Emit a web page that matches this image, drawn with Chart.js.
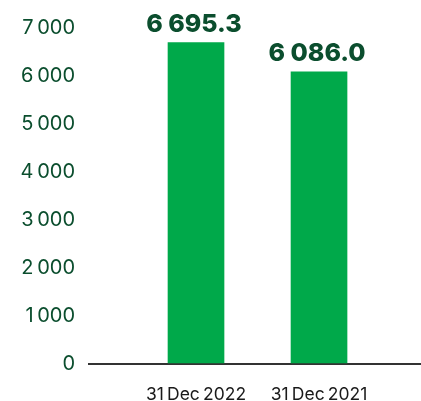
<!DOCTYPE html>
<html>
<head>
<meta charset="utf-8">
<script src="https://cdn.jsdelivr.net/npm/chart.js@4"></script>
<style>
  html, body { margin: 0; padding: 0; background: #fff; }
  #wrap { width: 421px; height: 401px; position: relative; }
</style>
</head>
<body>
<div id="wrap"><canvas id="chart"></canvas></div>
<script>
// Period labels and totals
const categories = ['31 Dec 2022', '31 Dec 2021'];
const totals = [6695.3, 6086.0];
const yTicks = [0, 1000, 2000, 3000, 4000, 5000, 6000, 7000];

const GREEN = '#00a94a';
const DARK_GREEN = '#0b4e2e';
const FONT = 'Inter, "Noto Sans", sans-serif';

// group thousands with a space, e.g. 6 695.3
function fmt(v, decimals, sep) {
  const parts = v.toFixed(decimals).split('.');
  parts[0] = parts[0].replace(/\B(?=(\d{3})+(?!\d))/g, sep);
  return parts.join('.');
}

// writes the value above each bar
const valueLabels = {
  id: 'valueLabels',
  afterDatasetsDraw(chart) {
    const ctx = chart.ctx;
    const meta = chart.getDatasetMeta(0);
    ctx.save();
    ctx.font = '800 25px ' + FONT;
    ctx.fillStyle = DARK_GREEN;
    ctx.textAlign = 'center';
    ctx.textBaseline = 'alphabetic';
    meta.data.forEach((bar, i) => {
      ctx.fillText(fmt(totals[i], 1, ' '), bar.x - 2, bar.y - 11);
    });
    ctx.restore();
  }
};

new Chart(document.getElementById('chart'), {
  type: 'bar',
  data: {
    datasets: [{
      data: totals.map((v, i) => ({ x: i, y: v })),
      backgroundColor: GREEN,
      borderWidth: 0,
      barThickness: 56
    }]
  },
  options: {
    responsive: true,
    maintainAspectRatio: false,
    animation: false,
    layout: { padding: { top: 28, right: 0, left: 0, bottom: 0 } },
    plugins: { legend: { display: false }, tooltip: { enabled: false } },
    scales: {
      x: {
        type: 'linear',
        offset: false,
        bounds: 'data',
        min: -0.878,
        max: 1.829,
        grid: { display: false, drawTicks: false, offset: false },
        border: { display: false },
        afterBuildTicks: (scale) => { scale.ticks = categories.map((c, i) => ({ value: i })); },
        afterFit: (scale) => { scale.height = 37; },
        ticks: {
          padding: 20,
          color: '#1a1a1a',
          font: { family: FONT, size: 17.5 },
          // tighter word gaps for the date labels
          callback: (v) => categories[v].replace(/ /g, '\u2009')
        }
      },
      y: {
        min: 0,
        max: 7000,
        afterBuildTicks: (scale) => { scale.ticks = yTicks.map(v => ({ value: v })); },
        afterFit: (scale) => { scale.width = 88; },
        grid: {
          drawTicks: false,
          lineWidth: 2,
          color: (c) => c.tick && c.tick.value === 0 ? '#333333' : 'rgba(0,0,0,0)'
        },
        border: { display: false },
        ticks: {
          padding: 13,
          color: DARK_GREEN,
          font: { family: FONT, size: 20 },
          callback: (v) => fmt(v, 0, '\u2009')
        }
      }
    }
  },
  plugins: [valueLabels]
});
</script>
</body>
</html>
